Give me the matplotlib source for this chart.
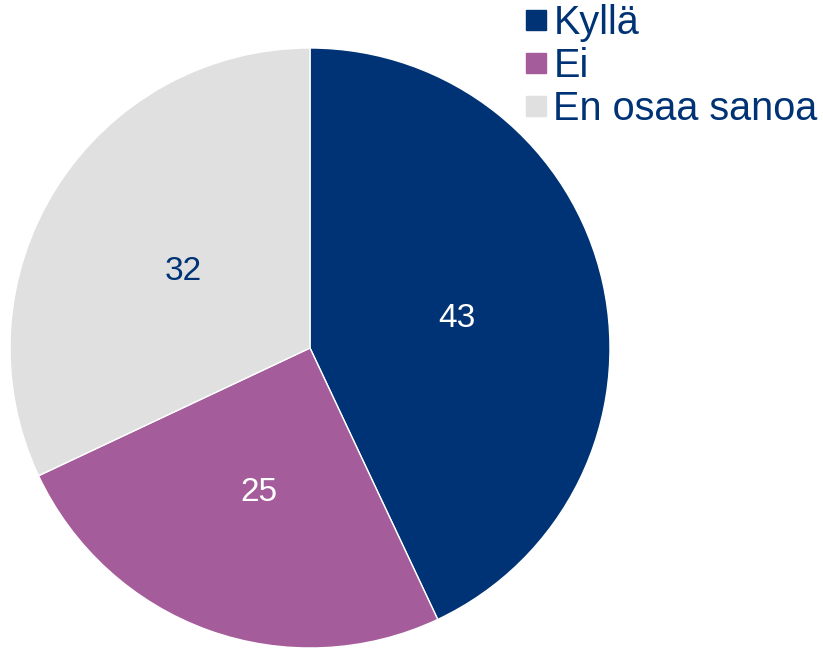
import matplotlib.pyplot as plt
from matplotlib.lines import Line2D

labels = ["Kyllä", "Ei", "En osaa sanoa"]
values = [43, 25, 32]
colors = ["#003375", "#A45C9A", "#E0E0E0"]
text_colors = ["white", "white", "#003375"]

plt.rcParams['font.family'] = ['Liberation Sans', 'DejaVu Sans']

fig = plt.figure(figsize=(8.23, 6.48), dpi=100)
ax = fig.add_axes([10/823, 0/648, 600/823, 600/648])

wedges, texts, autotexts = ax.pie(values, colors=colors, startangle=90, counterclock=False,
                                  autopct=lambda p: f"{p:.0f}", pctdistance=0.5,
                                  wedgeprops=dict(edgecolor="white", linewidth=1))
for t, c in zip(autotexts, text_colors):
    t.set_color(c)
    t.set_fontsize(24)
    t.set_va("center_baseline")
ax.set_xlim(-1, 1)
ax.set_ylim(-1, 1)

handles = [Line2D([], [], marker="s", linestyle="", markersize=14, color=c) for c in colors]
leg = fig.legend(handles, labels, loc="upper left", bbox_to_anchor=(504/823, 1.018),
                 frameon=False, fontsize=28.5, handletextpad=0.05, labelspacing=0.12,
                 handlelength=0.8, borderaxespad=0)
for t in leg.get_texts():
    t.set_color("#003375")

fig.savefig("out.png", dpi=100)
